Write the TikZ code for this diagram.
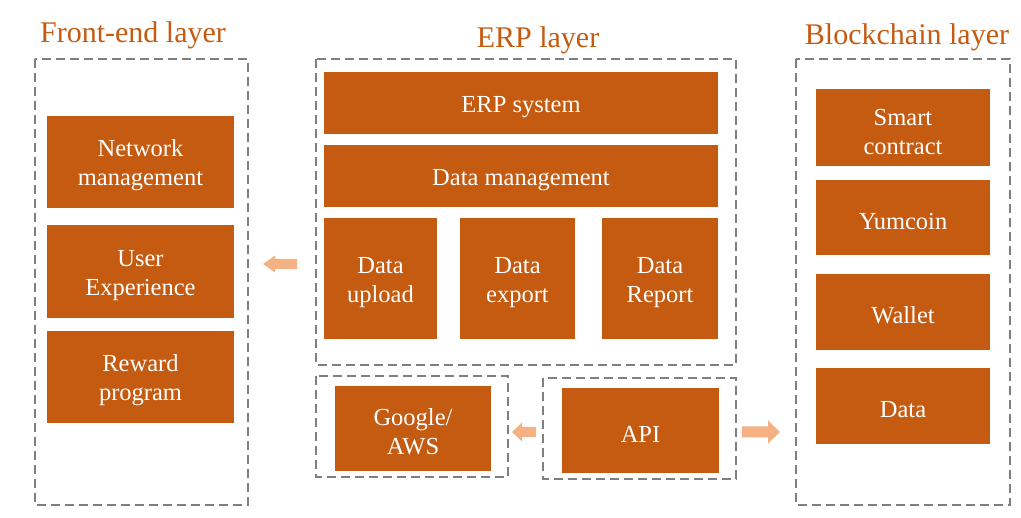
\documentclass[tikz,border=0pt]{standalone}
\usepackage{fontspec}
\setmainfont{Liberation Serif}
\definecolor{boxor}{HTML}{C55A11}
\definecolor{arrowor}{HTML}{F4B183}
\definecolor{dashgray}{HTML}{7F7F7F}
\tikzset{
  layerframe/.style={draw=dashgray, line width=2pt, dash pattern=on 9pt off 5pt},
  unitbox/.style={fill=boxor, text=white, align=center, inner sep=0pt,
    font=\fontsize{24.5}{29}\selectfont},
  oneline/.style={unitbox, text height=24pt},
  twoline/.style={unitbox, text height=53pt},
  layertitle/.style={text=boxor, anchor=base, inner sep=0pt,
    font=\fontsize{30}{34}\selectfont},
  flowarrow/.style={fill=arrowor, draw=none}
}
\begin{document}
\begin{tikzpicture}[x=1pt, y=-1pt]
\useasboundingbox (0,0) rectangle (1021,518);

% layer titles
\node[layertitle] (tfront) at (133,43) {Front-end layer};
\node[layertitle] (terp) at (538,48) {ERP layer};
\node[layertitle] (tblock) at (907,45) {Blockchain layer};

% dashed layer frames
\draw[layerframe] (35,59) rectangle (248,505);
\draw[layerframe] (316,59) rectangle (736,365);
\draw[layerframe] (316,376) rectangle (508,477);
\draw[layerframe] (543,378) rectangle (736,479);
\draw[layerframe] (796,59) rectangle (1010,505);

% front-end layer
\node[twoline, minimum width=187pt, minimum height=92pt] (net) at (140.5,162) {Network\\management};
\node[twoline, minimum width=187pt, minimum height=93pt] (ux) at (140.5,271.5) {User\\Experience};
\node[twoline, minimum width=187pt, minimum height=92pt] (reward) at (140.5,377) {Reward\\program};

% ERP layer
\node[oneline, minimum width=394pt, minimum height=62pt] (erpsys) at (521,103) {ERP system};
\node[oneline, minimum width=394pt, minimum height=62pt] (dm) at (521,176) {Data management};
\node[twoline, minimum width=113pt, minimum height=121pt] (upload) at (380.5,278.5) {Data\\upload};
\node[twoline, minimum width=115pt, minimum height=121pt] (export) at (517.5,278.5) {Data\\export};
\node[twoline, minimum width=116pt, minimum height=121pt] (report) at (660,278.5) {Data\\Report};
\node[twoline, minimum width=156pt, minimum height=85pt] (cloud) at (413,428.5) {Google/\\AWS};
\node[oneline, minimum width=157pt, minimum height=85pt] (api) at (640.5,430.5) {API};

% blockchain layer
\node[twoline, minimum width=174pt, minimum height=77pt] (smart) at (903,128) {Smart\\contract};
\node[oneline, minimum width=174pt, minimum height=75pt] (yum) at (903,217.5) {Yumcoin};
\node[oneline, minimum width=174pt, minimum height=76pt] (wallet) at (903,312) {Wallet};
\node[oneline, minimum width=174pt, minimum height=76pt] (bdata) at (903,406) {Data};

% block arrows: tip points, then head and shaft outlines
\coordinate (tipL) at (263,264);
\coordinate (tipM) at (512,432);
\coordinate (tipR) at (780,432);
\fill[flowarrow] (tipL) -- ++(12,-8.5) -- ++(0,3.5) -- ++(22,0) -- ++(0,10) -- ++(-22,0) -- ++(0,3.5) -- cycle;
\fill[flowarrow] (tipM) -- ++(10,-9.5) -- ++(0,4.5) -- ++(14,0) -- ++(0,10) -- ++(-14,0) -- ++(0,4.5) -- cycle;
\fill[flowarrow] (tipR) -- ++(-12,-11.5) -- ++(0,6) -- ++(-26,0) -- ++(0,11) -- ++(26,0) -- ++(0,6) -- cycle;
\end{tikzpicture}
\end{document}
